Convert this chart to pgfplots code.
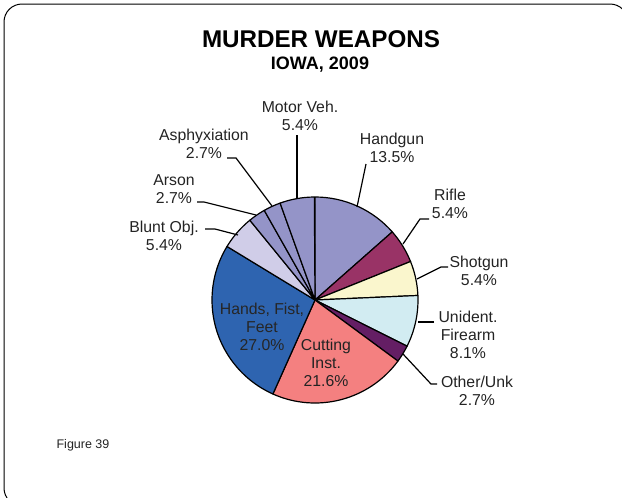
\documentclass[border=0pt]{standalone}
\usepackage{pgfplots}
\pgfplotsset{compat=1.18}
\usepackage{pgfplotstable}
\usepackage{fontspec}
\setmainfont{Liberation Sans}

\definecolor{cHand}{RGB}{148,148,200}
\definecolor{cRifle}{RGB}{153,51,102}
\definecolor{cShot}{RGB}{250,246,205}
\definecolor{cUnid}{RGB}{210,236,242}
\definecolor{cOther}{RGB}{100,30,100}
\definecolor{cCut}{RGB}{244,128,128}
\definecolor{cHands}{RGB}{46,100,176}
\definecolor{cBlunt}{RGB}{208,205,232}
\definecolor{labtxt}{RGB}{35,35,35}

% share of murders by weapon, clockwise from 12 o'clock
\pgfplotstableread{
key     pct   col
Handgun 13.5  cHand
Rifle   5.4   cRifle
Shotgun 5.4   cShot
Unident 8.1   cUnid
Other   2.7   cOther
Cutting 21.6  cCut
Hands   27.0  cHands
Blunt   5.4   cBlunt
Arson   2.7   cHand
Asphyx  2.7   cHand
Motor   5.4   cHand
}\piedata

\begin{document}
\begin{tikzpicture}
\begin{axis}[
    x=1pt, y=1pt,
    xmin=0, xmax=622,
    ymin=0, ymax=498,
    y dir=reverse,
    hide axis,
]
% pie wedges
\pgfmathsetmacro\angA{90}
\pgfplotsforeachungrouped \i in {0,...,10}{%
  \pgfplotstablegetelem{\i}{pct}\of\piedata \let\wpct\pgfplotsretval
  \pgfplotstablegetelem{\i}{col}\of\piedata \let\wcol\pgfplotsretval
  \pgfmathsetmacro\angB{\angA-3.6*\wpct}
  \edef\mywedge{\noexpand\filldraw[fill=\wcol, draw=black, line width=1.2pt, line join=round]
    (axis cs:315,300) -- ++(\angA:103pt) arc[start angle=\angA, end angle=\angB, radius=103pt] -- cycle;}
  \mywedge
  \let\angA\angB
}

% frame
\draw[line width=1pt, rounded corners=18pt] (axis cs:4,4) rectangle (axis cs:628,506);

% titles
\node[font=\fontsize{24.2}{27}\selectfont\bfseries] at (axis cs:321,39) {MURDER WEAPONS};
\node[font=\fontsize{18}{20}\selectfont\bfseries] at (axis cs:320,65) {IOWA, 2009};
\node[font=\fontsize{12.5}{14}\selectfont, text=labtxt] at (axis cs:83,445) {Figure 39};

% leader lines
\begin{scope}[line width=1.2pt]
\draw (axis cs:297,135) -- (axis cs:297,199);
\draw (axis cs:366,164) -- (axis cs:357,207);
\draw (axis cs:429,219) -- (axis cs:420,219) -- (axis cs:403,244);
\draw (axis cs:448,267) -- (axis cs:441,267) -- (axis cs:417,279);
\draw (axis cs:434,322) -- (axis cs:418,322);
\draw (axis cs:437,384) -- (axis cs:431,384) -- (axis cs:403,354);
\draw (axis cs:205,229) -- (axis cs:215,229) -- (axis cs:238,235);
\draw (axis cs:197,202) -- (axis cs:204,202) -- (axis cs:256,215);
\draw (axis cs:227,158) -- (axis cs:236,158) -- (axis cs:272,206);
\end{scope}

% labels
\begin{scope}[every node/.style={font=\fontsize{15.8}{18}\selectfont, align=center, text=labtxt, inner sep=0pt}]
\node at (axis cs:300,116) {Motor Veh.\\5.4\%};
\node at (axis cs:392,148) {Handgun\\13.5\%};
\node at (axis cs:450,204) {Rifle\\5.4\%};
\node at (axis cs:479,271) {Shotgun\\5.4\%};
\node at (axis cs:468,335) {Unident.\\Firearm\\8.1\%};
\node at (axis cs:477,391) {Other/Unk\\2.7\%};
\node at (axis cs:164,236) {Blunt Obj.\\5.4\%};
\node at (axis cs:174,189) {Arson\\2.7\%};
\node at (axis cs:204,144) {Asphyxiation\\2.7\%};
\node[text=black!85] at (axis cs:262,327) {Hands, Fist,\\Feet\\27.0\%};
\node at (axis cs:326,363) {Cutting\\Inst.\\21.6\%};
\end{scope}
\end{axis}
\pgfresetboundingbox
\path (current axis.south west) rectangle (current axis.north east);
\end{tikzpicture}
\end{document}
